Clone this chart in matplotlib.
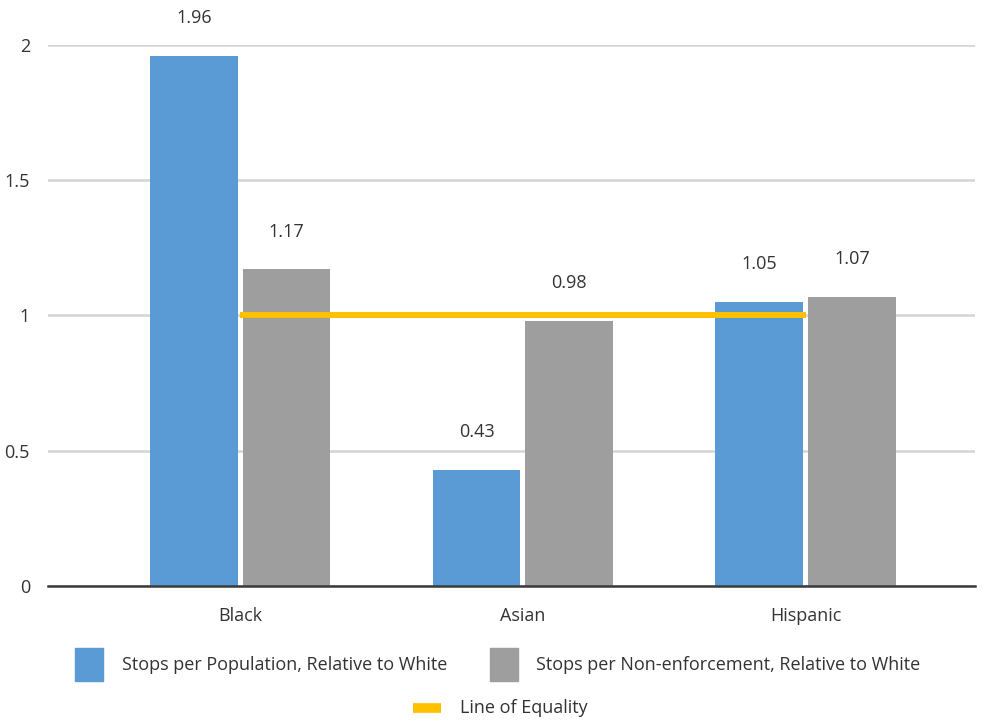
import matplotlib.pyplot as plt
import numpy as np
from matplotlib.patches import Rectangle
from matplotlib.lines import Line2D

categories = ["Black", "Asian", "Hispanic"]
per_population = [1.96, 0.43, 1.05]
per_nonenforcement = [1.17, 0.98, 1.07]
equality = [1, 1, 1]
yticks = [0, 0.5, 1, 1.5, 2]

blue = "#5B9BD5"
gray = "#9E9E9E"
gold = "#FFC000"
txt = "#333333"
fs = 13

plt.rcParams["font.family"] = ["Open Sans", "DejaVu Sans"]

fig = plt.figure(figsize=(9.9, 7.23), dpi=100)
ax = fig.add_axes([0.0485, 0.1895, 0.9365, 0.7483])

x = np.arange(len(categories))
w = 0.31
gap = 0.009
b1 = ax.bar(x - w / 2 - gap, per_population, w, color=blue, zorder=3)
b2 = ax.bar(x + w / 2 + gap, per_nonenforcement, w, color=gray, zorder=3)
ax.plot(x, equality, color=gold, lw=4.3, zorder=4, solid_capstyle="butt")

for bars, vals in [(b1, per_population), (b2, per_nonenforcement)]:
    for r, v in zip(bars, vals):
        ax.annotate(f"{v:.2f}", (r.get_x() + r.get_width() / 2, v), xytext=(0, 27),
                    textcoords="offset points", ha="center", va="center",
                    fontsize=fs, color=txt, annotation_clip=False)

ax.set_xlim(-0.68, 2.6)
ax.set_ylim(0, 2)
ax.set_yticks(yticks)
ax.set_yticklabels([f"{t:g}" for t in yticks])
ax.set_xticks(x)
ax.set_xticklabels(categories)
ax.tick_params(length=0, labelsize=fs, labelcolor=txt)
ax.tick_params(axis="x", pad=15)
ax.tick_params(axis="y", pad=13)
ax.grid(axis="y", color="#D4D4D4", lw=1.8, zorder=0)
for s in ["top", "right", "left"]:
    ax.spines[s].set_visible(False)
ax.spines["bottom"].set_color("#3A3A3A")
ax.spines["bottom"].set_linewidth(1.8)
ax.spines["bottom"].set_zorder(5)

# legend drawn by hand
W, H = 990, 723
def fx(px):
    return px / W
def fy(py):
    return 1 - py / H

fig.add_artist(Rectangle((fx(75), fy(681)), fx(28), 33 / H, color=blue))
fig.text(fx(122), fy(665), "Stops per Population, Relative to White", fontsize=fs,
         color=txt, va="center")
fig.add_artist(Rectangle((fx(490), fy(681)), fx(28), 33 / H, color=gray))
fig.text(fx(536), fy(665), "Stops per Non-enforcement, Relative to White", fontsize=fs,
         color=txt, va="center")
fig.add_artist(Line2D([fx(413), fx(441)], [fy(708), fy(708)], color=gold, lw=7,
                      solid_capstyle="butt"))
fig.text(fx(460), fy(708), "Line of Equality", fontsize=fs, color=txt, va="center")

fig.savefig("out.png", dpi=100)
